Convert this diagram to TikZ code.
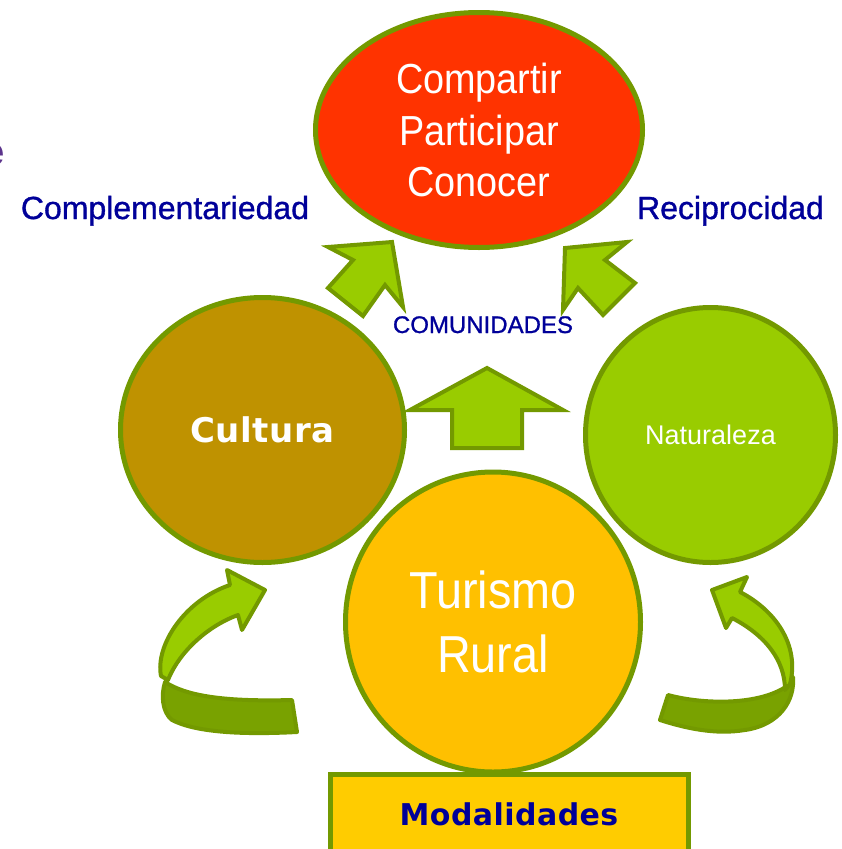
\documentclass[tikz,border=0pt]{standalone}
\usepackage{fontspec}
\setmainfont{Liberation Sans}
\newfontfamily\narrowfont[FakeStretch=0.9]{Liberation Sans}
\newfontfamily\tagfont[FakeBold=1]{Liberation Sans}
\newfontfamily\widefont[LetterSpace=1.5]{DejaVu Sans}
\usepackage{tikz}
\usetikzlibrary{positioning}
\usetikzlibrary{shapes.geometric}
\definecolor{rimgreen}{RGB}{115,153,0}
\definecolor{leafgreen}{RGB}{153,204,0}
\definecolor{darkleaf}{RGB}{121,162,0}
\definecolor{sharered}{RGB}{255,51,0}
\definecolor{culturegold}{RGB}{191,146,0}
\definecolor{ruralamber}{RGB}{255,192,0}
\definecolor{modeyellow}{RGB}{255,204,0}
\definecolor{titleblue}{RGB}{0,0,153}
\definecolor{cutpurple}{RGB}{92,52,140}

\begin{document}
\begin{tikzpicture}[x=1pt,y=-1pt,
  bubble/.style = {shape=ellipse, draw=rimgreen, line width=5pt,
    inner sep=0pt, text=white, align=center},
  tag/.style = {text=titleblue, font=\tagfont\fontsize{32}{38}\selectfont},
  blockarrow/.style = {draw=rimgreen, line width=4pt, fill=leafgreen},
  ribbon/.style = {draw=rimgreen, line width=4pt, fill=darkleaf, line join=round}
  ]
  \useasboundingbox (0,0) rectangle (841,849);

  \node[anchor=base east, text=cutpurple, font=\bfseries\fontsize{40}{40}\selectfont] (cut) at (8,165) {e};

  \node[bubble, fill=sharered, minimum width=327pt, minimum height=235pt,
    font=\narrowfont\fontsize{42}{51.5}\selectfont] (share) at (479,130)
    {Compartir\\Participar\\Conocer};
  \node[bubble, fill=culturegold, minimum width=284pt, minimum height=265pt,
    font=\widefont\bfseries\fontsize{34}{40}\selectfont] (cultura) at (262.5,430) {Cultura};
  \node[bubble, fill=leafgreen, minimum width=250pt, minimum height=255pt,
    font=\fontsize{27}{32}\selectfont] (naturaleza) at (710.5,435) {Naturaleza};

  \node[tag, anchor=base] (compl) at (165,219) {Complementariedad};
  \node[tag, anchor=base] (recip) at (730.5,219) {Reciprocidad};
  \node[tag, anchor=base, font=\tagfont\fontsize{24}{28}\selectfont] (comun) at (483,333) {COMUNIDADES};

  \draw[blockarrow] (392,242) -- (328,247) -- (353,260) -- (328,288) -- (363,316)
    -- (385,285) -- (403,307) -- cycle;
  \draw[blockarrow] (565,248) -- (627,242) -- (605,260) -- (635,283) -- (603,315)
    -- (578,288) -- (563,310) -- cycle;
  \draw[blockarrow] (487,368) -- (563,410) -- (522,410) -- (522,448) -- (452,448)
    -- (452,410) -- (410,410) -- cycle;

  \draw[ribbon] (165,682) .. controls (185,695) and (220,702) .. (292,700) -- (297,732)
    .. controls (240,735) and (195,732) .. (172,720) .. controls (162,712) and (161,695) .. (165,682) -- cycle;
  \draw[ribbon, fill=leafgreen] (227,570) -- (265,590) -- (242,630) -- (238,615)
    .. controls (210,625) and (180,650) .. (168,680) -- (161,676)
    .. controls (155,645) and (185,600) .. (230,585) -- cycle;

  \draw[ribbon] (668,695) .. controls (705,705) and (760,705) .. (787,686) -- (793,677)
    .. controls (795,700) and (780,725) .. (745,730) .. controls (715,735) and (685,728) .. (660,720) -- cycle;
  \draw[ribbon, fill=leafgreen] (712,590) -- (747,577) -- (740,592)
    .. controls (775,610) and (800,645) .. (790,684) -- (785,690)
    .. controls (785,660) and (765,635) .. (732,618) -- (726,628) -- cycle;

  \node[bubble, fill=ruralamber, minimum width=295pt, minimum height=300pt,
    font=\narrowfont\fontsize{52}{64}\selectfont] (rural) at (493,622) {Turismo\\Rural};

  \draw[draw=rimgreen, line width=5pt, fill=modeyellow] (330,774) rectangle (688,870);
  \node[anchor=base, text=titleblue, font=\widefont\bfseries\fontsize{30}{34}\selectfont]
    (modal) at (509,825) {Modalidades};
\end{tikzpicture}
\end{document}
